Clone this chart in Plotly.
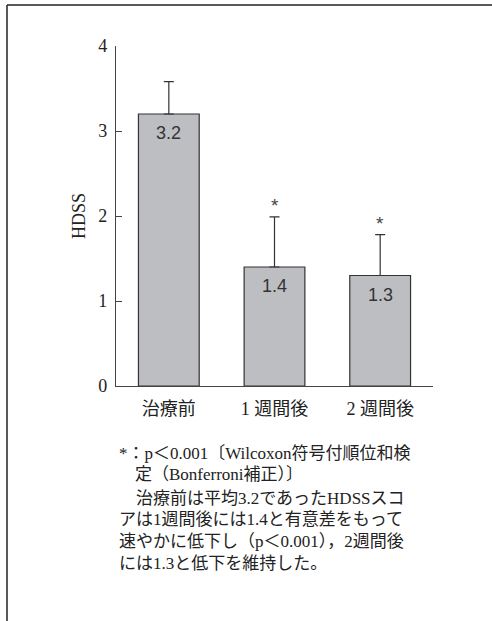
import plotly.graph_objects as go

# HDSS scores (mean + SD) before and after treatment
categories = ["治療前", "1 週間後", "2 週間後"]
means = [3.2, 1.4, 1.3]
sds = [0.38, 0.59, 0.48]
significant = [False, True, True]
y_ticks = [0, 1, 2, 3, 4]

W, H = 492, 621
L, R, T, B = 116, 59, 46, 235
PW, PH = W - L - R, H - T - B

SERIF = "Liberation Serif, Noto Sans CJK JP, serif"
SANS = "Liberation Sans, Arial, sans-serif"
INK = "#222222"


def px(xp):
    return (xp - L) / PW


def py(yp):
    return (H - B - yp) / PH


fig = go.Figure()
fig.add_trace(go.Bar(
    x=categories,
    y=means,
    width=0.575,
    marker=dict(color="#bdbec2", line=dict(color="#333333", width=1.2)),
    error_y=dict(type="data", array=sds, symmetric=False, arrayminus=[0] * 3,
                 color="#333333", thickness=1.2, width=5),
    hoverinfo="skip",
))

annotations = []
for cat, m, s, sig in zip(categories, means, sds, significant):
    annotations.append(dict(x=cat, y=m, xref="x", yref="y", text=f"{m:.1f}",
                            showarrow=False, yshift=-19,
                            font=dict(family=SANS, size=18, color="#333333")))
    if sig:
        annotations.append(dict(x=cat, y=m + s, xref="x", yref="y", text="*",
                                showarrow=False, yshift=11,
                                font=dict(family=SANS, size=19, color="#444444")))

# y-axis title
annotations.append(dict(x=px(79), y=2, xref="paper", yref="y", text="HDSS",
                        textangle=-90, showarrow=False, xanchor="center",
                        font=dict(family=SERIF, size=18, color=INK)))

# footnote and caption
text_lines = [
    (117, 453, "*：p＜0.001〔Wilcoxon符号付順位和検"),
    (133, 474, "定（Bonferroni補正）〕"),
    (134, 498, f"治療前は平均{means[0]:.1f}であったHDSSスコ"),
    (117, 519, f"アは1週間後には{means[1]:.1f}と有意差をもって"),
    (117, 541, "速やかに低下し（p＜0.001），2週間後"),
    (117, 563, f"には{means[2]:.1f}と低下を維持した。"),
]
for xp, yp, t in text_lines:
    annotations.append(dict(x=px(xp), y=py(yp), xref="paper", yref="paper", text=t,
                            showarrow=False, xanchor="left", yanchor="middle",
                            font=dict(family=SERIF, size=17, color=INK)))

shapes = [
    dict(type="line", xref="paper", yref="paper", x0=px(7), x1=px(493),
         y0=py(5), y1=py(5), line=dict(color=INK, width=1.5)),
    dict(type="line", xref="paper", yref="paper", x0=px(7), x1=px(7),
         y0=py(5), y1=py(622), line=dict(color=INK, width=1.5)),
]

fig.update_layout(
    width=W, height=H,
    margin=dict(l=L, r=R, t=T, b=B),
    paper_bgcolor="white", plot_bgcolor="white",
    showlegend=False,
    annotations=annotations,
    shapes=shapes,
    xaxis=dict(range=[-0.5, 2.5], showline=True, linecolor="#444444", linewidth=1.2,
               ticks="", showgrid=False, zeroline=False, ticklabelstandoff=6,
               tickfont=dict(family=SERIF, size=18, color=INK)),
    yaxis=dict(range=[0, 4], tickvals=y_ticks, showline=True, linecolor="#444444",
               linewidth=1.2, ticks="inside", ticklen=6, tickcolor="#444444",
               tickwidth=1.2, showgrid=False, zeroline=False, ticklabelstandoff=4,
               tickfont=dict(family=SERIF, size=18, color=INK)),
)

fig.write_html("out.html")
